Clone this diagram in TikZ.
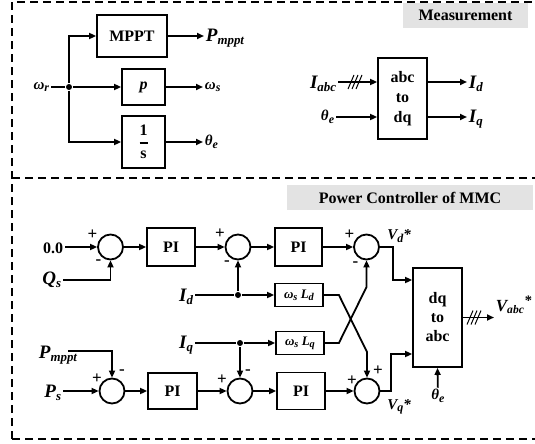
\documentclass[tikz,border=0pt]{standalone}
\usepackage{fontspec}
\setmainfont{Liberation Serif}
\usepackage{amsmath}
\usepackage{tikz}
\usetikzlibrary{arrows.meta,positioning,calc}
\definecolor{tagfill}{HTML}{E3E3E3}
\newcommand{\lo}[2][0.7]{\raisebox{-0.35ex}{\scalebox{#1}{#2}}}
\newcommand{\sig}[2]{\textbf{\textit{#1\lo[0.68]{#2}}}}

\begin{document}
\begin{tikzpicture}[x=1pt, y=-1pt, line width=1.8pt, >={Triangle[length=7pt,width=6pt]},
    blk/.style={draw, rectangle, inner sep=0pt, font=\fontsize{16}{20}\selectfont\bfseries},
    smallblk/.style={draw, rectangle, inner sep=0pt, minimum width=48pt, minimum height=23pt, font=\fontsize{13}{14}\selectfont\bfseries\itshape},
    sumnode/.style={draw, circle, minimum size=25pt, inner sep=0pt},
    dot/.style={circle, fill, minimum size=6pt, inner sep=0pt},
    siglbl/.style={inner sep=1pt, font=\fontsize{19}{20}\selectfont},
    smlbl/.style={inner sep=1pt, font=\fontsize{15}{16}\selectfont\bfseries\itshape},
    sgn/.style={inner sep=0pt, font=\fontsize{17}{17}\selectfont\bfseries},
    tag/.style={fill=tagfill, inner sep=0pt, font=\fontsize{16}{18}\selectfont\bfseries},
    frame/.style={dash pattern=on 8pt off 5pt, line width=1.8pt}]
    \useasboundingbox (0,0) rectangle (535,444);

    % Dashed frame
    \draw[frame] (12,439) -- (12,2) -- (535,2);
    \draw[frame] (12,178) -- (535,178);
    \draw[frame] (12,439) -- (535,439);

    % Speed branch
    \node[smlbl, anchor=east] (wr) at (51,87) {ω\lo[0.8]{r}};
    \node[dot] (jr) at (69,87) {};
    \node[blk, minimum width=70pt, minimum height=42pt] (mppt) at (132,36) {MPPT};
    \node[blk, minimum width=43pt, minimum height=36pt] (pblk) at (143.5,87) {\textit{p}};
    \node[blk, minimum width=43pt, minimum height=52pt] (intg) at (143.5,142) {$\genfrac{}{}{1.8pt}{0}{\textbf{1}}{\textbf{s}}$};
    \node[siglbl, anchor=west] (pm1) at (204,38) {\sig{P}{mppt}};
    \node[smlbl, anchor=west] (ws) at (203,87) {ω\lo[0.8]{s}};
    \node[smlbl, anchor=west] (th1) at (203,142) {θ\lo[0.8]{e}};

    \draw (wr) -- (jr);
    \draw[->] (jr) |- (mppt);
    \draw[->] (jr) -- (pblk);
    \draw[->] (jr) |- (intg);
    \draw[->] (mppt) -- (mppt -| pm1.west);
    \draw[->] (pblk) -- (ws);
    \draw[->] (intg) -- (th1);

    % Measurement
    \node[tag, minimum width=125pt, minimum height=25pt] (meas) at (465.5,15.5) {Measurement};
    \node[blk, align=center, minimum width=49pt, minimum height=81pt] (a2d) at (402.5,98.5) {abc\\to\\dq};
    \node[siglbl, anchor=east] (iabc) at (338,84) {\sig{I}{abc}};
    \node[smlbl, anchor=east] (th2) at (336,117) {θ\lo[0.8]{e}};
    \node[siglbl, anchor=west] (id1) at (467,84) {\sig{I}{d}};
    \node[siglbl, anchor=west] (iq1) at (467,119) {\sig{I}{q}};
    \coordinate (sl1) at (355,82);

    \draw[->] (iabc.east |- sl1) -- (sl1 -| a2d.west);
    \foreach \d in {-4,0,4}
      \draw[line width=1pt] ($(sl1)+(\d-3,7)$) -- ($(sl1)+(\d+3,-7)$);
    \draw[->] (th2) -- (th2 -| a2d.west);
    \draw[->] (sl1 -| a2d.east) -- (sl1 -| id1.west);
    \draw[->] (th2 -| a2d.east) -- (th2 -| iq1.west);

    % Power controller
    \node[tag, minimum width=246pt, minimum height=25pt] (pcm) at (410,197.5) {Power Controller of MMC};

    % Q / d-axis row
    \node[inner sep=1pt, font=\fontsize{16}{18}\selectfont\bfseries, anchor=east] (zero) at (65,248) {0.0};
    \node[siglbl, anchor=east] (qs) at (63,280) {\sig{Q}{s}};
    \node[sumnode] (s1) at (110.5,247) {};
    \node[blk, minimum width=48pt, minimum height=38pt] (pi1) at (171,247) {PI};
    \node[sumnode] (s2) at (238,247) {};
    \node[blk, minimum width=47pt, minimum height=38pt] (pi2) at (298.5,247) {PI};
    \node[sumnode] (s3) at (366.5,247) {};
    \node[smlbl] (vd) at (399,236) {V\lo[0.8]{d}*};

    % Current feedback
    \node[siglbl, anchor=east] (id2) at (195,297) {\sig{I}{d}};
    \node[dot] (jd) at (238,295) {};
    \node[smallblk] (wld) at (299,295) {ω\lo[0.8]{s} L\lo[0.8]{d}};
    \node[siglbl, anchor=east] (iq2) at (195,345) {\sig{I}{q}};
    \node[dot] (jq) at (240,343) {};
    \node[smallblk] (wlq) at (300,343) {ω\lo[0.8]{s} L\lo[0.8]{q}};

    % P / q-axis row
    \node[siglbl] (pmp) at (58,355) {\sig{P}{mppt}};
    \node[siglbl, anchor=east] (ps) at (63,393) {\sig{P}{s}};
    \node[sumnode] (s5) at (112,391) {};
    \node[blk, minimum width=49pt, minimum height=36pt] (pi3) at (172.5,391) {PI};
    \node[sumnode] (s6) at (240,391) {};
    \node[blk, minimum width=48pt, minimum height=37pt] (pi4) at (301,391) {PI};
    \node[sumnode] (s4) at (367,391) {};
    \node[smlbl] (vq) at (399,407) {V\lo[0.8]{q}*};

    % dq to abc
    \node[blk, align=center, minimum width=49pt, minimum height=99pt, font=\fontsize{16}{19}\selectfont\bfseries] (d2a) at (437.5,317.5) {dq\\to\\abc};
    \node[smlbl] (th3) at (438,396) {θ\lo[0.8]{e}};
    \node[inner sep=0pt, font=\fontsize{17}{18}\selectfont, anchor=west] (vabc) at (495,305) {\sig{V}{abc}\kern1pt\raisebox{0.7ex}{\scalebox{0.85}{\textbf{*}}}};
    \coordinate (vo) at (494,317.5);
    \coordinate (sl2) at (474,317.5);

    % Signs
    \foreach \s/\dx/\dy/\t [count=\n] in {s1/-18/-12/+, s1/-12/15/-, s2/-18/-13/+, s2/-11/16/-,
        s3/-17/-12/+, s3/-11/17/-, s5/-15/-12/+, s5/10/-19/-, s6/-18/-11/+, s6/8/-19/-,
        s4/-15/-10/+, s4/11/-20/+}
      \node[sgn] (sg\n) at ($(\s)+(\dx,\dy)$) {\t};

    % Connections, d-axis
    \draw[->] (zero.east |- s1) -- (s1);
    \draw[->] (qs) -| (s1);
    \draw[->] (s1) -- (pi1);
    \draw[->] (pi1) -- (s2);
    \draw[->] (s2) -- (pi2);
    \draw[->] (pi2) -- (s3);
    \draw (id2.east |- jd) -- (jd);
    \draw[->] (jd) -- (s2);
    \draw[->] (jd) -- (wld);

    % Connections, q-axis
    \draw[->] ([xshift=-11pt,yshift=4pt]pmp.east) -| (s5);
    \draw[->] (ps.east |- s5) -- (s5);
    \draw[->] (s5) -- (pi3);
    \draw[->] (pi3) -- (s6);
    \draw[->] (s6) -- (pi4);
    \draw[->] (pi4) -- (s4);
    \draw (iq2.east |- jq) -- (jq);
    \draw[->] (jq) -- (s6);
    \draw[->] (jq) -- (wlq);

    % Cross coupling
    \draw[->] (wld.east) -- ++(15,0) -- (367,352) -- (s4.north);
    \draw[->] (wlq.east) -- ++(14,0) -- (366.5,287) -- (s3.south);

    % Into dq to abc
    \draw[->] (s3.east) -| (393,280) -- (d2a.west |- 0,280);
    \draw[->] (s4.east) -| (391,354) -- (d2a.west |- 0,354);
    \draw[->] (th3) -- (d2a.south);
    \draw[->] (d2a.east) -- (vo);
    \foreach \d in {-4,0,4}
      \draw[line width=1pt] ($(sl2)+(\d-3,7)$) -- ($(sl2)+(\d+3,-7)$);
\end{tikzpicture}
\end{document}
